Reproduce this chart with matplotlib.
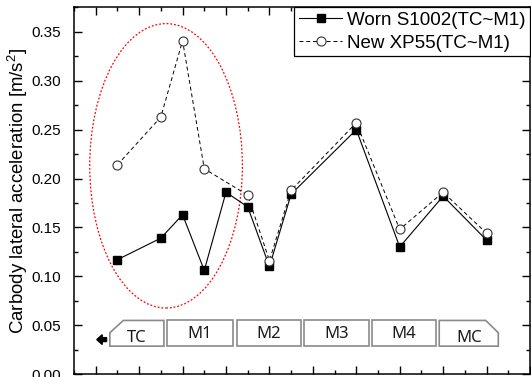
import matplotlib
matplotlib.use("Agg")
import matplotlib.pyplot as plt
from matplotlib.patches import Ellipse, Polygon, FancyArrow
from matplotlib.ticker import MultipleLocator, NullFormatter, FormatStrFormatter

plt.rcParams['font.family'] = ['Liberation Sans', 'DejaVu Sans']
plt.rcParams['mathtext.fontset'] = 'custom'
plt.rcParams['mathtext.rm'] = 'Liberation Sans'
plt.rcParams['mathtext.it'] = 'Liberation Sans:italic'
plt.rcParams['mathtext.bf'] = 'Liberation Sans:bold'

# ---- data ----
worn_x = [1, 3, 4, 5, 6, 7, 8, 9, 12, 14, 16, 18]
worn_y = [0.117, 0.139, 0.163, 0.106, 0.186, 0.171, 0.110, 0.184, 0.250, 0.130, 0.182, 0.137]
new_x = [1, 3, 4, 5, 7, 8, 9, 12, 14, 16, 18]
new_y = [0.214, 0.263, 0.341, 0.210, 0.183, 0.116, 0.188, 0.257, 0.148, 0.186, 0.144]
worn_label = "Worn S1002(TC~M1)"
new_label = "New XP55(TC~M1)"
ylabel = "Carbody lateral acceleration [m/s$^\\mathregular{2}$]"

zone_names = ["TC", "M1", "M2", "M3", "M4", "MC"]
zone_start = [0.65, 3.30, 6.50, 9.60, 12.72, 15.82]
zone_end = [3.14, 6.30, 9.45, 12.60, 15.69, 18.54]

fig = plt.figure(figsize=(5.31, 3.77), dpi=100)
ax = fig.add_axes([74/531, 3/377, (530-74)/531, (374-7)/377])

ax.plot(worn_x, worn_y, '-', color='black', lw=0.8, marker='s', ms=6,
        mfc='black', mec='black', label=worn_label, zorder=3)
ax.plot(new_x, new_y, '--', color='black', lw=0.7, dashes=(4, 3), marker='o', ms=6.5,
        mfc='white', mec='#333333', mew=0.8, label=new_label, zorder=4)

ax.set_xlim(-1, 20)
ax.set_ylim(0, 0.3755)
ax.xaxis.set_major_locator(MultipleLocator(2))
ax.xaxis.set_minor_locator(MultipleLocator(1))
ax.xaxis.set_major_formatter(NullFormatter())
ax.yaxis.set_major_locator(MultipleLocator(0.05))
ax.yaxis.set_minor_locator(MultipleLocator(0.025))
ax.yaxis.set_major_formatter(FormatStrFormatter('%.2f'))
ax.tick_params(which='both', direction='in', top=True, right=True, width=1)
ax.tick_params(which='major', length=6, labelsize=11, pad=9)
ax.tick_params(which='minor', length=3)
for s in ax.spines.values():
    s.set_linewidth(1.1)
ax.set_ylabel(ylabel, fontsize=13.4, labelpad=1.5)

# red dotted ellipse
ax.add_patch(Ellipse((3.24, 0.213), 7.03, 0.291, fill=False, edgecolor='red',
                     lw=0.9, linestyle=(0, (1.5, 1.5)), zorder=2))

# zone boxes
ytop, ybot, ych = 0.0548, 0.0285, 0.0422
for i, (name, x0, x1) in enumerate(zip(zone_names, zone_start, zone_end)):
    if i == 0:
        pts = [(x0, ybot), (x0, ych), (x0 + 0.62, ytop), (x1, ytop), (x1, ybot)]
        ty = 0.0370
    elif i == len(zone_names) - 1:
        pts = [(x0, ybot), (x0, ytop), (x1 - 0.58, ytop), (x1, ych), (x1, ybot)]
        ty = 0.0370
    else:
        pts = [(x0, ybot), (x0, ytop), (x1, ytop), (x1, ybot)]
        ty = 0.0405
    ax.add_patch(Polygon(pts, closed=True, facecolor='white', edgecolor='#8a8a8a', lw=1.2, zorder=2))
    ax.text((x0 + x1) / 2, ty, name, ha='center', va='center', fontsize=12,
            family=['Noto Sans', 'DejaVu Sans'], color='#1a1a1a', zorder=3)

ax.add_patch(FancyArrow(0.50, 0.0352, -0.45, 0, width=0.004, head_width=0.010,
                        head_length=0.25, color='black', length_includes_head=True, zorder=3))

leg = ax.legend(loc='upper right', bbox_to_anchor=(1, 1), borderaxespad=0,
                fancybox=False, edgecolor='black', framealpha=1, fontsize=13.5,
                handlelength=2.3, handletextpad=0.25, borderpad=0.25, labelspacing=0.3)
leg.get_frame().set_linewidth(0.9)

fig.savefig("out.png", dpi=100)
